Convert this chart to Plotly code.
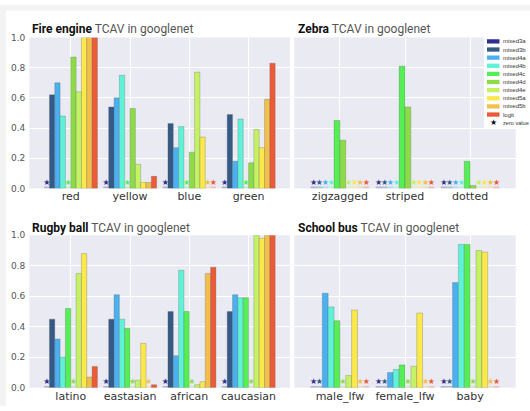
import plotly.graph_objects as go

# ---------------- data ----------------
SERIES = ["mixed3a", "mixed3b", "mixed4a", "mixed4b", "mixed4c",
          "mixed4d", "mixed4e", "mixed5a", "mixed5b", "logit"]
COLORS = ["#2e2f8e", "#345a85", "#4ab0f0", "#5ef2d6", "#55ee55",
          "#8edb4a", "#c4f264", "#fbe84a", "#f2c04a", "#ec5a38"]

fire_categories = ["red", "yellow", "blue", "green"]
fire_red = [0, 0.62, 0.70, 0.48, 0, 0.87, 0.64, 1.0, 1.0, 1.0]
fire_yellow = [0, 0.54, 0.60, 0.75, 0, 0.53, 0.16, 0.04, 0.04, 0.08]
fire_blue = [0, 0.43, 0.27, 0.41, 0, 0.24, 0.77, 0.34, 0, 0]
fire_green = [0, 0.49, 0.18, 0.46, 0, 0.17, 0.39, 0.27, 0.59, 0.83]

zebra_categories = ["zigzagged", "striped", "dotted"]
zebra_zigzagged = [0, 0, 0, 0, 0.45, 0.32, 0, 0, 0, 0]
zebra_striped = [0, 0, 0, 0, 0.81, 0.54, 0, 0, 0, 0]
zebra_dotted = [0, 0, 0, 0, 0.18, 0.02, 0, 0, 0, 0]

rugby_categories = ["latino", "eastasian", "african", "caucasian"]
rugby_latino = [0, 0.45, 0.32, 0.20, 0.52, 0, 0.75, 0.88, 0.07, 0.14]
rugby_eastasian = [0, 0.45, 0.61, 0.45, 0.39, 0, 0.05, 0.29, 0, 0.02]
rugby_african = [0, 0.50, 0.21, 0.77, 0.50, 0, 0.02, 0.04, 0.75, 0.79]
rugby_caucasian = [0, 0.50, 0.61, 0.59, 0.59, 0, 1.0, 0.98, 1.0, 1.0]

bus_categories = ["male_lfw", "female_lfw", "baby"]
bus_male = [0, 0, 0.62, 0.53, 0.44, 0, 0.08, 0.51, 0, 0]
bus_female = [0, 0, 0.10, 0.12, 0.15, 0, 0.14, 0.49, 0, 0]
bus_baby = [0, 0, 0.69, 0.94, 0.94, 0, 0.90, 0.89, 0, 0]

y_ticks = [0.0, 0.2, 0.4, 0.6, 0.8, 1.0]

panels = [
    ("Fire engine", fire_categories, [fire_red, fire_yellow, fire_blue, fire_green]),
    ("Zebra", zebra_categories, [zebra_zigzagged, zebra_striped, zebra_dotted]),
    ("Rugby ball", rugby_categories, [rugby_latino, rugby_eastasian, rugby_african, rugby_caucasian]),
    ("School bus", bus_categories, [bus_male, bus_female, bus_baby]),
]

# ---------------- layout geometry (pixels) ----------------
W, H = 530, 411
ZERO_H = 0.012  # faint stub shown for zero values
X_DOM = [(29.3, 290.0), (294.3, 515.7), (29.3, 290.0), (294.3, 515.7)]
Y_DOM = [(33.3, 188.0), (33.3, 188.0), (236.0, 392.3), (236.0, 392.3)]
TITLE_XY = [(30, 25), (296, 25), (30, 229), (296, 229)]


def hex_rgba(h, a):
    h = h.lstrip("#")
    return "rgba(%d,%d,%d,%.2f)" % (int(h[0:2], 16), int(h[2:4], 16), int(h[4:6], 16), a)


fig = go.Figure()

for p, (name, cats, groups) in enumerate(panels):
    ax = "" if p == 0 else str(p + 1)
    for s, (sname, col) in enumerate(zip(SERIES, COLORS)):
        vals = [g[s] for g in groups]
        yplot = [v if v > 0 else ZERO_H for v in vals]
        fig.add_trace(go.Bar(
            x=cats, y=yplot, name=sname, showlegend=False,
            xaxis="x" + ax, yaxis="y" + ax,
            marker=dict(color=[col if v > 0 else hex_rgba(col, 0.3) for v in vals],
                        line=dict(color=[hex_rgba("#5a5a5a", 0.35) if v > 0 else "rgba(0,0,0,0)" for v in vals],
                                  width=0.8)),
            text=["\u2605" if v == 0 else "" for v in vals],
            textposition="outside",
            outsidetextfont=dict(color=col, size=8, family="DejaVu Sans"),
            constraintext="none", cliponaxis=False,
        ))

layout = dict(
    width=W, height=H, autosize=False,
    margin=dict(l=0, r=0, t=0, b=0),
    paper_bgcolor="white", plot_bgcolor="#eaeaf2",
    barmode="group", bargap=0.1, bargroupgap=0.0,
    showlegend=False,
)

for p, (name, cats, groups) in enumerate(panels):
    ax = "" if p == 0 else str(p + 1)
    n = len(cats)
    layout["xaxis" + ax] = dict(
        domain=[X_DOM[p][0] / W, X_DOM[p][1] / W],
        anchor="y" + ax, type="category", range=[-0.7, n - 0.3],
        showgrid=True, gridcolor="white", gridwidth=1,
        ticks="", showline=False, zeroline=False,
        tickfont=dict(family="DejaVu Sans", size=11, color="#333"),
    )
    layout["yaxis" + ax] = dict(
        domain=[1 - Y_DOM[p][1] / H, 1 - Y_DOM[p][0] / H],
        anchor="x" + ax, range=[0, 1.0],
        tickvals=y_ticks, tickformat=".1f",
        showticklabels=(p % 2 == 0),
        showgrid=True, gridcolor="white", gridwidth=1,
        ticks="", showline=False, zeroline=False,
        tickfont=dict(family="DejaVu Sans", size=9, color="#555"),
        ticklabelstandoff=3,
    )

annotations = []
for p, (name, cats, groups) in enumerate(panels):
    tx, ty = TITLE_XY[p]
    annotations.append(dict(
        xref="paper", yref="paper", x=tx / W, y=1 - ty / H,
        xanchor="left", yanchor="middle", showarrow=False,
        text="<b><span style='color:#111'>%s</span></b> TCAV in googlenet" % name,
        font=dict(family="Roboto", size=12, color="#555"),
    ))

shapes = []
# light frame around the figure
shapes.append(dict(type="rect", xref="paper", yref="paper", x0=0, x1=1,
                   y0=1 - 6 / H, y1=1, fillcolor="#f3f3f3", line=dict(width=0), layer="below"))
shapes.append(dict(type="rect", xref="paper", yref="paper", x0=0, x1=6 / W,
                   y0=0, y1=1, fillcolor="#f3f3f3", line=dict(width=0), layer="below"))

# legend (drawn manually to match the compact matplotlib legend)
LX0, LY0, LY1 = 484, 31, 126
shapes.append(dict(type="rect", xref="paper", yref="paper", x0=LX0 / W, x1=1,
                   y0=1 - LY1 / H, y1=1 - LY0 / H, fillcolor="rgba(255,255,255,0.92)",
                   line=dict(width=0), layer="above"))
row0, step = 37.3, 8.33
for i, (sname, col) in enumerate(zip(SERIES, COLORS)):
    yc = row0 + i * step
    shapes.append(dict(type="rect", xref="paper", yref="paper",
                       x0=487 / W, x1=499.5 / W, y0=1 - (yc + 2.2) / H, y1=1 - (yc - 2.2) / H,
                       fillcolor=col, line=dict(width=0), layer="above"))
    annotations.append(dict(xref="paper", yref="paper", x=502 / W, y=1 - yc / H,
                            xanchor="left", yanchor="middle", showarrow=False, text=sname,
                            borderpad=0,
                            font=dict(family="Liberation Sans", size=6, color="#333")))
yc = row0 + len(SERIES) * step
annotations.append(dict(xref="paper", yref="paper", x=493 / W, y=1 - yc / H,
                        xanchor="center", yanchor="middle", showarrow=False, text="\u2605",
                        font=dict(family="DejaVu Sans", size=8, color="#111")))
annotations.append(dict(xref="paper", yref="paper", x=502 / W, y=1 - yc / H,
                        xanchor="left", yanchor="middle", showarrow=False, text="zero value",
                        borderpad=0,
                        font=dict(family="Liberation Sans", size=5.6, color="#333")))

layout["annotations"] = annotations
layout["shapes"] = shapes
fig.update_layout(**layout)
fig.write_html("out.html", config={"displayModeBar": False},
               post_script="document.body.style.margin='0px';document.body.style.overflow='hidden';")
